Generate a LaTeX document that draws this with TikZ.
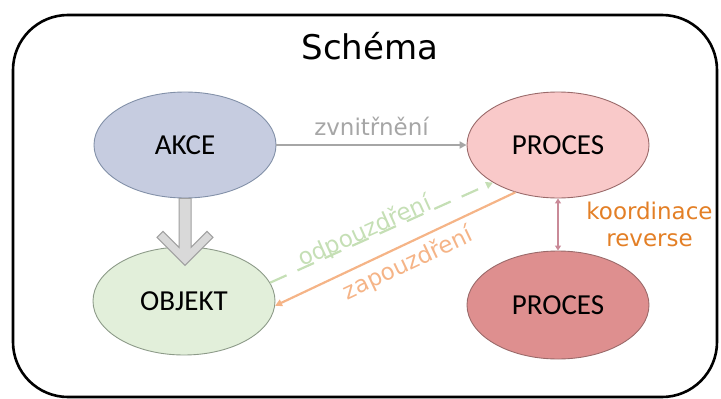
\documentclass[tikz,border=0pt]{standalone}
\usepackage{fontspec}
\setmainfont{Carlito}
\newfontfamily\labelfont{DejaVu Sans}
\usetikzlibrary{shapes.geometric,arrows.meta}

\definecolor{akceFill}{HTML}{C6CCE0}
\definecolor{akceLine}{HTML}{8290A8}
\definecolor{procFill}{HTML}{F9C9C9}
\definecolor{procLine}{HTML}{9A6A6A}
\definecolor{procDark}{HTML}{DE8F8F}
\definecolor{objFill}{HTML}{E2EFDA}
\definecolor{objLine}{HTML}{8C9A88}
\definecolor{linkGray}{HTML}{A6A6A6}
\definecolor{linkGreen}{HTML}{C5DFB5}
\definecolor{linkOrange}{HTML}{F5B487}
\definecolor{coordMauve}{HTML}{C98A98}
\definecolor{coordText}{HTML}{E37F26}
\definecolor{bigArrowFill}{HTML}{D9D9D9}
\definecolor{bigArrowLine}{HTML}{A0A0A0}

\begin{document}
\begin{tikzpicture}[x=1pt,y=-1pt,
  state/.style={ellipse, draw=#1, line width=0.9pt, minimum width=182pt,
    minimum height=106pt, inner sep=0pt, font=\fontsize{29}{32}\selectfont},
  lbl/.style={font=\labelfont\fontsize{23}{27}\selectfont},
  tip/.style={-{Triangle[length=7pt,width=7pt]}},
  link/.style={line width=2.2pt}
]
\useasboundingbox (0,0) rectangle (721,399);

% frame
\draw[line width=2.6pt, rounded corners=55pt] (13,15) rectangle (717,397);
\node[font=\labelfont\fontsize{34}{36}\selectfont] (title) at (370,46) {Schéma};

% states
\node[state=akceLine, fill=akceFill] (A) at (185,145) {AKCE};
\node[state=procLine, fill=procFill] (P1) at (558,145) {PROCES};
\node[state=objLine, fill=objFill, minimum height=108pt] (O) at (184,301) {OBJEKT};
\node[state=procLine, fill=procDark, minimum height=108pt] (P2) at (558,305) {PROCES};

% internalisation
\draw[link, linkGray, tip] (A.east) -- (P1.west)
  node[midway, above=5pt, lbl, text=linkGray] (zv) {zvnitřnění};

% de-encapsulation (dashed)
\draw[link, linkGreen, dash pattern=on 18pt off 12pt, tip] (O.12) -- (P1.210)
  node[pos=0.44, sloped, anchor=base, yshift=1pt, lbl, text=linkGreen] (od) {odpouzdření};

% encapsulation
\draw[link, linkOrange, {Triangle[length=7pt,width=7pt]}-] (O.-3) -- (P1.228)
  node[pos=0.52, sloped, below=3pt, lbl, text=linkOrange] (za) {zapouzdření};

% coordination
\draw[link, coordMauve, {Triangle[length=5pt,width=6pt]}-{Triangle[length=5pt,width=6pt]}]
  (P1.south) -- (P2.north)
  node[midway, right=24pt, lbl, text=coordText, align=center] (ko) {koordinace\\reverse};

% wide arrow from AKCE down to OBJEKT
\begin{scope}[shift={(A.south)}]
  \draw[fill=bigArrowFill, draw=bigArrowLine, line width=1pt, line join=miter]
    (-6,0) -- (-6,49) -- (-22,33) -- (-28,39) -- (0,67) -- (28,39)
    -- (22,33) -- (6,49) -- (6,0) -- cycle;
\end{scope}
\end{tikzpicture}
\end{document}
